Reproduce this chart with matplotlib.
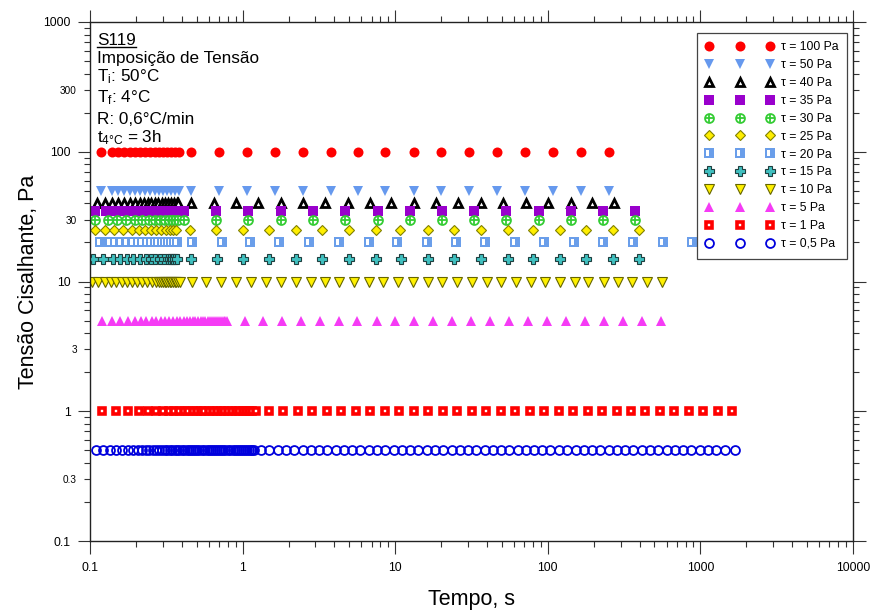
import matplotlib
matplotlib.use("Agg")
import matplotlib.pyplot as plt
from matplotlib.lines import Line2D
from matplotlib.path import Path
from matplotlib.legend_handler import HandlerTuple
from matplotlib.ticker import FixedLocator, FuncFormatter, NullFormatter

plt.rcParams["font.family"] = ["Liberation Sans", "DejaVu Sans"]
plt.rcParams["mathtext.default"] = "regular"

# ---- dados (tempo em s, tensão imposta em Pa) ----
t_100 = [0.118, 0.14, 0.153, 0.167, 0.183, 0.197, 0.212, 0.228, 0.246, 0.265, 0.282,
         0.301, 0.321, 0.338, 0.359, 0.381, 0.461, 0.705, 1.07, 1.64, 2.49, 3.79,
         5.68, 8.62, 13.2, 20.1, 30.6, 46.6, 71.0, 108, 165, 250]
t_50 = [0.118, 0.14, 0.153, 0.167, 0.183, 0.197, 0.212, 0.228, 0.246, 0.265, 0.282,
        0.301, 0.321, 0.338, 0.359, 0.381, 0.461, 0.705, 1.07, 1.64, 2.49, 3.79,
        5.68, 8.62, 13.2, 20.1, 30.6, 46.6, 71.0, 108, 165, 250]
t_40 = [0.111, 0.125, 0.139, 0.153, 0.167, 0.182, 0.197, 0.211, 0.225, 0.24, 0.25,
        0.265, 0.28, 0.295, 0.31, 0.325, 0.34, 0.355, 0.37, 0.38, 0.461, 0.648,
        0.906, 1.27, 1.78, 2.49, 3.49, 4.9, 6.79, 9.4, 13.2, 18.5, 25.9, 36.3,
        51.0, 71.5, 100, 141, 194, 271]
t_35 = [0.108, 0.128, 0.149, 0.17, 0.185, 0.2, 0.215, 0.23, 0.245, 0.26, 0.275,
        0.29, 0.305, 0.32, 0.335, 0.35, 0.365, 0.412, 0.67, 1.09, 1.78, 2.9, 4.72,
        7.68, 12.5, 20.3, 33.0, 53.5, 87.1, 142, 231, 375]
t_30 = [0.108, 0.131, 0.151, 0.173, 0.197, 0.219, 0.243, 0.266, 0.286, 0.308,
        0.328, 0.345, 0.362, 0.376, 0.412, 0.67, 1.09, 1.78, 2.9, 4.72, 7.68,
        12.5, 20.3, 33.0, 53.5, 87.1, 142, 231, 375]
t_25 = [0.108, 0.125, 0.144, 0.165, 0.187, 0.209, 0.228, 0.25, 0.272, 0.294,
        0.313, 0.333, 0.35, 0.368, 0.449, 0.67, 1.0, 1.49, 2.23, 3.33, 4.97, 7.43,
        10.8, 16.4, 24.4, 36.5, 54.5, 80.2, 120, 178, 266, 398]
t_20 = [0.116, 0.135, 0.145, 0.16, 0.175, 0.19, 0.205, 0.22, 0.235, 0.25, 0.265,
        0.28, 0.295, 0.31, 0.325, 0.34, 0.355, 0.37, 0.465, 0.73, 1.12, 1.74, 2.72,
        4.27, 6.71, 10.2, 16.2, 25.1, 39.0, 61.0, 94.5, 148, 230, 360, 565, 880]
t_15 = [0.105, 0.122, 0.142, 0.157, 0.174, 0.192, 0.212, 0.231, 0.25, 0.268,
        0.286, 0.305, 0.324, 0.335, 0.344, 0.352, 0.362, 0.37, 0.456, 0.68, 1.01,
        1.49, 2.23, 3.33, 4.97, 7.43, 10.9, 16.4, 24.2, 36.4, 54.7, 80.2, 120,
        178, 266, 398]
t_10 = [0.103, 0.113, 0.125, 0.137, 0.149, 0.161, 0.174, 0.188, 0.203, 0.219,
        0.237, 0.253, 0.272, 0.285, 0.294, 0.302, 0.309, 0.317, 0.324, 0.332,
        0.341, 0.35, 0.358, 0.366, 0.375, 0.387, 0.465, 0.577, 0.724, 0.906, 1.14,
        1.42, 1.78, 2.24, 2.8, 3.45, 4.27, 5.35, 6.71, 8.27, 10.4, 13.0, 16.4,
        20.4, 25.4, 31.8, 39.9, 49.6, 61.9, 77.1, 96.5, 121, 151, 184, 232, 289,
        358, 448, 563]
t_5 = [0.119, 0.139, 0.157, 0.178, 0.197, 0.217, 0.234, 0.253, 0.27, 0.29, 0.31,
       0.33, 0.35, 0.37, 0.39, 0.41, 0.43, 0.45, 0.47, 0.49, 0.51, 0.53, 0.55,
       0.57, 0.59, 0.61, 0.63, 0.65, 0.67, 0.69, 0.71, 0.73, 0.75, 0.77, 0.79,
       1.03, 1.36, 1.8, 2.4, 3.2, 4.3, 5.6, 7.6, 10.0, 13.3, 17.8, 23.6, 31.5,
       42.0, 55.8, 74.4, 99, 132, 176, 234, 312, 415, 553]
t_1 = [0.119, 0.149, 0.178, 0.21, 0.24, 0.27, 0.301, 0.329, 0.353, 0.383, 0.41,
       0.44, 0.47, 0.5, 0.53, 0.56, 0.6, 0.64, 0.68, 0.72, 0.76, 0.8, 0.85, 0.9,
       0.95, 1.0, 1.05, 1.1, 1.16, 1.22, 1.49, 1.85, 2.3, 2.87, 3.57, 4.44, 5.52,
       6.87, 8.55, 10.6, 13.2, 16.5, 20.5, 25.5, 31.7, 39.5, 49.1, 61.1, 76.0,
       94.6, 118, 146, 182, 227, 282, 351, 436, 543, 675, 840, 1045, 1300, 1620]
t_05 = [0.109, 0.122, 0.135, 0.149, 0.163, 0.178, 0.192, 0.207, 0.22, 0.232,
        0.245, 0.258, 0.27, 0.282, 0.295, 0.308, 0.32, 0.332, 0.345, 0.358, 0.37,
        0.385, 0.4, 0.415, 0.43, 0.445, 0.46, 0.475, 0.49, 0.505, 0.52, 0.54,
        0.56, 0.58, 0.6, 0.62, 0.64, 0.66, 0.68, 0.7, 0.72, 0.74, 0.77, 0.8, 0.83,
        0.86, 0.89, 0.92, 0.95, 0.98, 1.01, 1.04, 1.07, 1.1, 1.13, 1.16, 1.19,
        1.32, 1.5, 1.7, 1.92, 2.18, 2.47, 2.8, 3.17, 3.59, 4.07, 4.61, 5.22, 5.92,
        6.7, 7.6, 8.6, 9.75, 11.0, 12.5, 14.2, 16.1, 18.2, 20.6, 23.4, 26.5, 30.0,
        34.0, 38.5, 43.6, 49.4, 56.0, 63.4, 71.9, 81.4, 92.2, 104, 118, 134, 152,
        172, 195, 221, 250, 284, 321, 364, 412, 467, 529, 600, 680, 770, 872, 988,
        1120, 1270, 1440, 1680]

stress = [100, 50, 40, 35, 30, 25, 20, 15, 10, 5, 1, 0.5]
labels = ["τ = 100 Pa", "τ = 50 Pa", "τ = 40 Pa", "τ = 35 Pa", "τ = 30 Pa",
          "τ = 25 Pa", "τ = 20 Pa", "τ = 15 Pa", "τ = 10 Pa", "τ = 5 Pa",
          "τ = 1 Pa", "τ = 0,5 Pa"]
times = [t_100, t_50, t_40, t_35, t_30, t_25, t_20, t_15, t_10, t_5, t_1, t_05]

# barra branca do marcador "quadrado azul" (ligeiramente à esquerda do centro)
bar_path = Path([(0.5, 0.5), (-0.27, -0.3), (0.0, -0.3), (0.0, 0.3), (-0.27, 0.3), (-0.27, -0.3)],
                [Path.MOVETO, Path.MOVETO, Path.LINETO, Path.LINETO, Path.LINETO, Path.CLOSEPOLY])

# estilos (uma lista de camadas de marcador por série)
styles = [
    [dict(marker="o", ms=7.2, mfc="#FF0000", mec="#FF0000", mew=0)],
    [dict(marker="v", ms=7.2, mfc="#6699EE", mec="#6699EE", mew=0)],
    [dict(marker="^", ms=5.6, mfc="white", mec="black", mew=2.0)],
    [dict(marker="s", ms=7.4, mfc="#9900CC", mec="#9900CC", mew=0)],
    [dict(marker="o", ms=6.4, mfc="white", mec="#33CC33", mew=1.3),
     dict(marker="+", ms=6.4, mfc="none", mec="#33CC33", mew=1.3)],
    [dict(marker="D", ms=5.6, mfc="#FFEE00", mec="#808000", mew=0.8)],
    [dict(marker="s", ms=7.4, mfc="#6A9EEA", mec="#6A9EEA", mew=0),
     dict(marker=bar_path, ms=7.4, mfc="white", mec="white", mew=0)],
    [dict(marker="P", ms=7.2, mfc="#40C0C0", mec="#1F3F3F", mew=0.8)],
    [dict(marker="v", ms=6.8, mfc="#FFF000", mec="#666600", mew=0.8)],
    [dict(marker="^", ms=6.8, mfc="#F53BF5", mec="#F53BF5", mew=0)],
    [dict(marker="s", ms=4.6, mfc="white", mec="#FF0000", mew=2.6)],
    [dict(marker="o", ms=6.4, mfc="none", mec="#0000DD", mew=1.3)],
]

fig = plt.figure(figsize=(8.74, 6.10), dpi=100)
ax = fig.add_axes([0.103, 0.113, 0.873, 0.851])

for t, s, layers in zip(times, stress, styles):
    if len(layers) > 1 and layers[1]["marker"] is bar_path:
        # desenha ponto a ponto para que cada quadrado cubra a barra do anterior
        for ti in t:
            for st in layers:
                ax.plot([ti], [s], ls="none", **st)
    else:
        for st in layers:
            ax.plot(t, [s] * len(t), ls="none", **st)

ax.set_xscale("log")
ax.set_yscale("log")
ax.set_xlim(0.1, 10000)
ax.set_ylim(0.1, 1000)

decades_x = [0.1, 1, 10, 100, 1000, 10000]
decades_y = [0.1, 1, 10, 100, 1000]
minor_x = [m * d for d in decades_x[:-1] for m in range(2, 10)]
minor_y = [m * d for d in decades_y[:-1] for m in range(2, 10)]
ax.xaxis.set_major_locator(FixedLocator(decades_x))
ax.xaxis.set_minor_locator(FixedLocator(minor_x))
ax.yaxis.set_major_locator(FixedLocator(decades_y))
ax.yaxis.set_minor_locator(FixedLocator(minor_y))
ax.xaxis.set_major_formatter(FuncFormatter(lambda v, p: f"{v:g}"))
ax.xaxis.set_minor_formatter(NullFormatter())
ax.yaxis.set_major_formatter(FuncFormatter(lambda v, p: f"{v:g}"))
ax.yaxis.set_minor_formatter(FuncFormatter(
    lambda v, p: f"{v:g}" if any(abs(v - k) < 1e-9 * k for k in (0.3, 3, 30, 300)) else ""))

ax.tick_params(which="both", direction="out", top=True, right=True, width=0.8, color="#333333")
ax.tick_params(which="major", length=9, labelsize=8.8, pad=5)
ax.tick_params(which="minor", length=4.5, labelsize=7.2, pad=5)
ax.tick_params(axis="x", which="major", pad=6)
for sp in ax.spines.values():
    sp.set_linewidth(1.0)
    sp.set_color("#222222")

ax.set_xlabel("Tempo, s", fontsize=15.5, labelpad=11)
ax.set_ylabel("Tensão Cisalhante, Pa", fontsize=15.5, labelpad=3)

# legenda com três marcadores por série
handles = []
for layers in styles:
    hs = [Line2D([], [], ls="none", **st) for st in layers]
    handles.append(tuple(hs) if len(hs) > 1 else hs[0])
leg = ax.legend(handles, labels, loc="upper right", bbox_to_anchor=(0.992, 0.979),
                numpoints=3, fontsize=8.8, handlelength=5.6, handletextpad=0.55,
                labelspacing=0.48, borderpad=0.7, borderaxespad=0.0, fancybox=False,
                framealpha=1, handler_map={tuple: HandlerTuple(ndivide=1)})
leg.get_frame().set_edgecolor("#444444")
leg.get_frame().set_linewidth(0.9)

# bloco de texto das condições do ensaio
info_lines = ["S119", "Imposição de Tensão", "T$_i$: 50°C", "T$_f$: 4°C",
              "R: 0,6°C/min", "t$_{4°C}$ = 3h"]
info_y = [40.7, 58.3, 76.7, 98.0, 119.0, 138.0]
txts = []
for s, yp in zip(info_lines, info_y):
    txts.append(fig.text(97 / 874, 1 - yp / 610, s, fontsize=12.3, ha="left", va="center"))

fig.canvas.draw()
bb = txts[0].get_window_extent()
fig.add_artist(Line2D([bb.x0, bb.x1], [bb.y0 + 1, bb.y0 + 1], transform=None,
                      color="black", lw=1.0))

fig.savefig("out.png", dpi=100)
